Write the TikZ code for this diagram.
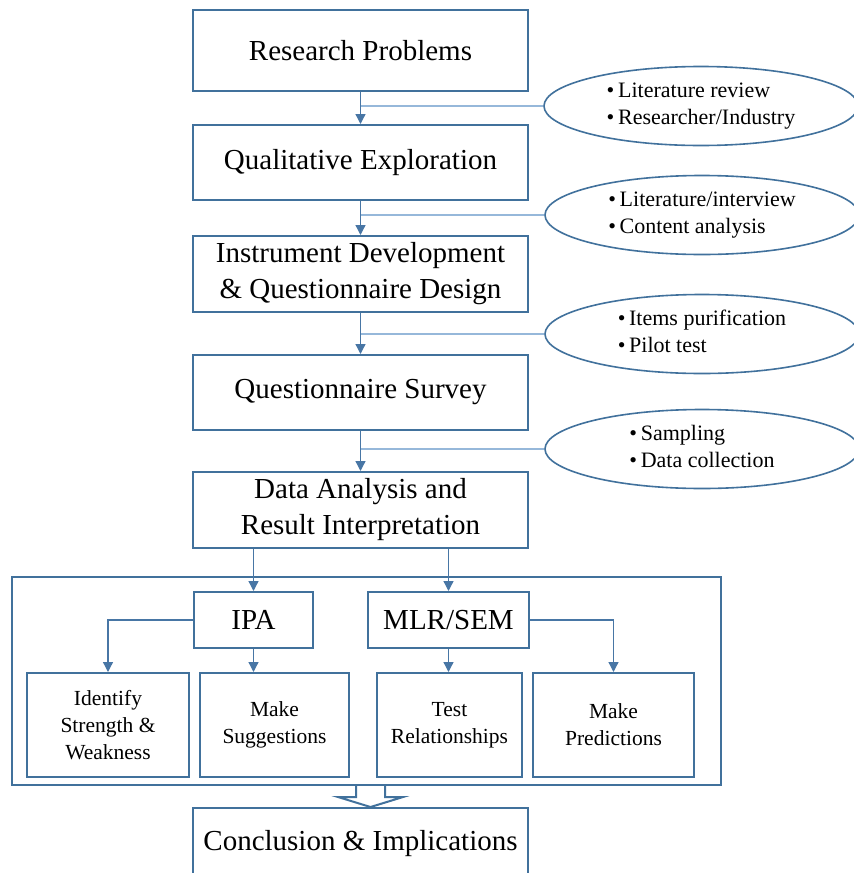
\documentclass[tikz,border=0pt]{standalone}
\usepackage{fontspec}
\setmainfont{Liberation Serif}
\usetikzlibrary{arrows.meta,shapes.geometric}

\definecolor{frameblue}{RGB}{65,113,156}
\definecolor{linkblue}{RGB}{72,118,165}
\definecolor{paleblue}{RGB}{150,184,218}

\begin{document}
\begin{tikzpicture}[x=1pt,y=-1pt,
  stepbox/.style={draw=frameblue,line width=2pt,fill=white,inner sep=0pt,
    align=center,font=\fontsize{29}{36}\selectfont},
  subbox/.style={draw=frameblue,line width=2pt,fill=white,inner sep=0pt,
    align=center,font=\fontsize{21.5}{27}\selectfont},
  notes/.style={ellipse,draw=frameblue,line width=1.6pt,fill=white,inner sep=0pt,
    minimum width=314pt,minimum height=79pt,font=\fontsize{22}{27}\selectfont},
  tip/.style={-{Triangle[length=10pt,width=10pt]}},
  flow/.style={draw=linkblue,line width=1.3pt,tip},
  branch/.style={draw=paleblue,line width=1.6pt},
  wire/.style={draw=linkblue,line width=1.3pt}
]
\useasboundingbox (0,0) rectangle (854,873);
\clip (0,0) rectangle (854,873);

% main chain of steps
\node[stepbox,minimum width=335pt,minimum height=81pt] (rp) at (360.5,50.5) {Research Problems};
\node[stepbox,minimum width=335pt,minimum height=75pt] (qe) at (360.5,162.5) {Qualitative Exploration};
\node[stepbox,minimum width=335pt,minimum height=76pt] (idv) at (360.5,274) {Instrument Development\\\& Questionnaire Design};
\node[stepbox,minimum width=335pt,minimum height=75pt] (qs) at (360.5,392.5) {Questionnaire Survey};
\node[stepbox,minimum width=335pt,minimum height=76pt] (da) at (360.5,510) {Data Analysis and\\Result Interpretation};

% side notes
\node[notes] (n1) at (701,106) {\begin{tabular}{@{}l@{}}•\,Literature review\\•\,Researcher/Industry\end{tabular}};
\node[notes] (n2) at (702,215) {\begin{tabular}{@{}l@{}}•\,Literature/interview\\•\,Content analysis\end{tabular}};
\node[notes] (n3) at (702,334) {\begin{tabular}{@{}l@{}}•\,Items purification\\•\,Pilot test\end{tabular}};
\node[notes] (n4) at (702,449) {\begin{tabular}{@{}l@{}}•\,Sampling\\•\,Data collection\end{tabular}};

% analysis frame
\node[draw=frameblue,line width=2pt,minimum width=709pt,minimum height=208pt,inner sep=0pt] (frame) at (366.5,681) {};
\node[stepbox,minimum width=119pt,minimum height=56pt] (ipa) at (253.5,620) {IPA};
\node[stepbox,minimum width=161pt,minimum height=56pt] (mlr) at (448.5,620) {MLR/SEM};
\node[subbox,minimum width=162pt,minimum height=104pt] (ident) at (108,725) {Identify\\Strength \&\\Weakness};
\node[subbox,minimum width=149pt,minimum height=104pt] (sugg) at (274.5,725) {Make\\Suggestions};
\node[subbox,minimum width=145pt,minimum height=104pt] (test) at (449.5,725) {Test\\Relationships};
\node[subbox,minimum width=161pt,minimum height=104pt] (pred) at (613.5,725) {Make\\Predictions};

% conclusion
\node[stepbox,minimum width=335pt,minimum height=72pt] (cc) at (360.5,844) {Conclusion \& Implications};

% connectors between steps
\draw[flow] (rp.south) -- (qe.north);
\draw[flow] (qe.south) -- (idv.north);
\draw[flow] (idv.south) -- (qs.north);
\draw[flow] (qs.south) -- (da.north);
\draw[branch] (n1.west) -- (n1.west -| rp.south);
\draw[branch] (n2.west) -- (n2.west -| qe.south);
\draw[branch] (n3.west) -- (n3.west -| idv.south);
\draw[branch] (n4.west) -- (n4.west -| qs.south);

\draw[flow] (da.south -| ipa.north) -- (ipa.north);
\draw[flow] (da.south -| mlr.north) -- (mlr.north);
\draw[flow] (ipa.south) -- (ipa.south |- sugg.north);
\draw[flow] (mlr.south) -- (mlr.south |- test.north);
\draw[wire,tip] (ipa.west) -| (ident.north);
\draw[wire,tip] (mlr.east) -| (pred.north);

% hollow block arrow into the conclusion, a little right of its centre
\coordinate (bt) at ([xshift=10pt]frame.south -| cc.north);
\coordinate (btip) at ([xshift=10pt]cc.north);
\draw[draw=frameblue,line width=2pt,fill=white,line join=miter]
  ([shift={(-14.5,0)}]bt) -- ([shift={(-14.5,11)}]bt) -- ([shift={(-32.5,11)}]bt)
  -- (btip) -- ([shift={(32.5,11)}]bt) -- ([shift={(14.5,11)}]bt)
  -- ([shift={(14.5,0)}]bt);
\end{tikzpicture}
\end{document}
